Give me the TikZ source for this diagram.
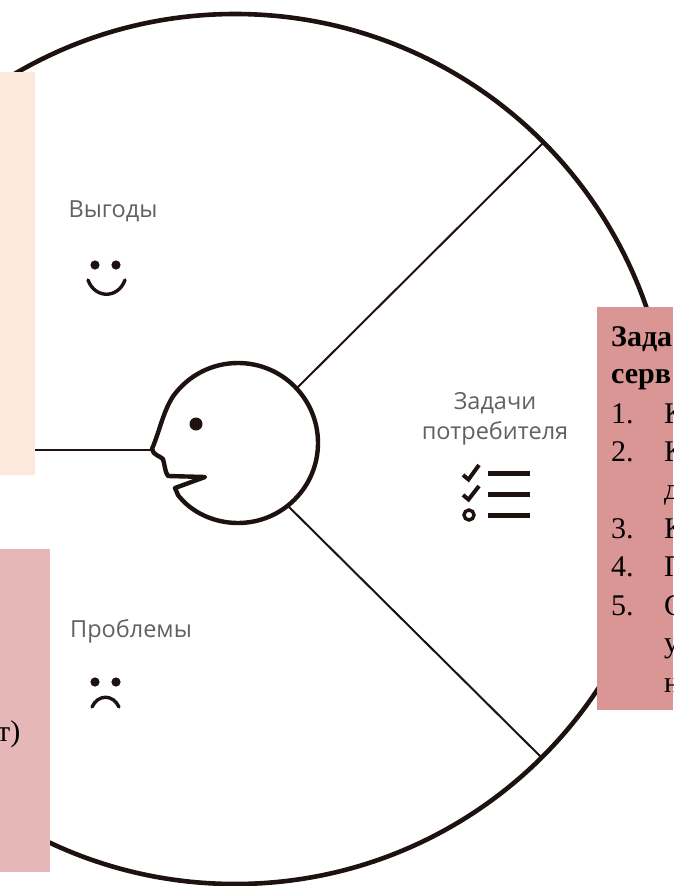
\documentclass[tikz,border=0pt]{standalone}
\usepackage{fontspec}
\setmainfont{Liberation Serif}
\newfontfamily\lblfont{Open Sans}
\definecolor{ink}{HTML}{1E1210}
\definecolor{peach}{HTML}{FDE9DC}
\definecolor{rosel}{HTML}{E5B8B7}
\definecolor{rosed}{HTML}{D99694}
\tikzset{
  x=1pt,y=-1pt,
  ring/.style={line width=4.6pt,draw=ink},
  spoke/.style={line width=2pt,draw=ink},
  facestroke/.style={line width=4.4pt,draw=ink,line join=round},
  iconstroke/.style={line width=3.4pt,draw=ink,line cap=round},
  checkstroke/.style={line width=4pt,draw=ink},
  barstroke/.style={line width=5pt,draw=ink},
  lbl/.style={font=\lblfont\fontsize{23.5}{30}\selectfont,text=black!62,align=center,inner sep=0pt},
  boxtxt/.style={font=\fontsize{30}{32}\selectfont,text=black,anchor=base west,inner sep=0pt},
  boxbold/.style={boxtxt,font=\fontsize{30}{32}\selectfont\bfseries}
}
\begin{document}
\begin{tikzpicture}
\useasboundingbox (0,0) rectangle (673,886);
\fill[white] (0,0) rectangle (673,886);
\begin{scope}
\clip (0,0) rectangle (673,886);
\coordinate (ctr) at (235,449);
\draw[ring] (ctr) circle[radius=435];
\end{scope}
\coordinate (hubA) at (297,388);
\coordinate (hubB) at (285,503);
\coordinate (rimA) at (543,143);
\coordinate (rimB) at (541,757);
\coordinate (rimC) at (0,450);
\coordinate (nose) at (152,450);
\draw[spoke] (hubA) -- (rimA);
\draw[spoke] (hubB) -- (rimB);
\draw[spoke] (rimC) -- (nose);
% head
\draw[facestroke,fill=white] (168,476) -- (205,477) -- (175,488) -- (178,495)
  .. controls (191.2,512.3) and (213.9,523) .. (238,523)
  .. controls (282.2,523) and (318,487.2) .. (318,443)
  .. controls (318,398.8) and (282.2,363) .. (238,363)
  .. controls (212.1,363) and (188.1,375.4) .. (173,396.4)
  .. controls (163,412) and (160,430) .. (152,449)
  .. controls (153,455) and (160,456) .. (163,459)
  .. controls (165,466) and (165,472) .. (168,476) -- cycle;
\fill[ink] (196,424) circle[radius=6.5];
% labels
\node[lbl] (vygody) at (113,211) {Выгоды};
\node[lbl] (probl) at (131,631) {Проблемы};
\node[lbl] (zadachi) at (495,419) {Задачи\\потребителя};
% smile
\fill[ink] (95,265) circle[radius=4.6] (116,265) circle[radius=4.6];
\draw[iconstroke] (88,280) .. controls (95,299) and (118,299) .. (125,280);
% frown
\fill[ink] (95,682) circle[radius=4.6] (116,682) circle[radius=4.6];
\draw[iconstroke] (92,707) .. controls (98,694) and (113,694) .. (119,707);
% list icon
\draw[checkstroke] (463,475) -- (468.5,479.5) -- (479,465);
\draw[checkstroke] (463,495) -- (468.5,499.5) -- (479,486);
\draw[line width=3.4pt,draw=ink] (469,515) circle[radius=5];
\draw[barstroke] (488,473) -- (530,473);
\draw[barstroke] (488,494) -- (530,494);
\draw[barstroke] (488,515) -- (530,515);
% boxes
\fill[peach] (0,72) rectangle (35,475);
\fill[rosel] (0,549) rectangle (50,872);
\fill[rosed] (597,307) rectangle (673,710);
\begin{scope}
\clip (0,549) rectangle (50,872);
\node[boxtxt] (ltxt) at (-3,741) {т)};
\end{scope}
\begin{scope}
\clip (597,307) rectangle (673,710);
\node[boxbold] (r1) at (611,346) {Зада};
\node[boxbold] (r2) at (611,383) {серв};
\node[boxtxt] (n1) at (611,423) {1.};
\node[boxtxt] (t1) at (664,423) {К};
\node[boxtxt] (n2) at (611,461) {2.};
\node[boxtxt] (t2) at (664,461) {К};
\node[boxtxt] (t2b) at (664,499) {д};
\node[boxtxt] (n3) at (611,538) {3.};
\node[boxtxt] (t3) at (664,538) {К};
\node[boxtxt] (n4) at (611,576) {4.};
\node[boxtxt] (t4) at (664,576) {П};
\node[boxtxt] (n5) at (611,615) {5.};
\node[boxtxt] (t5) at (664,615) {С};
\node[boxtxt] (t5b) at (664,652) {у};
\node[boxtxt] (t5c) at (664,692) {н};
\end{scope}
\end{tikzpicture}
\end{document}
